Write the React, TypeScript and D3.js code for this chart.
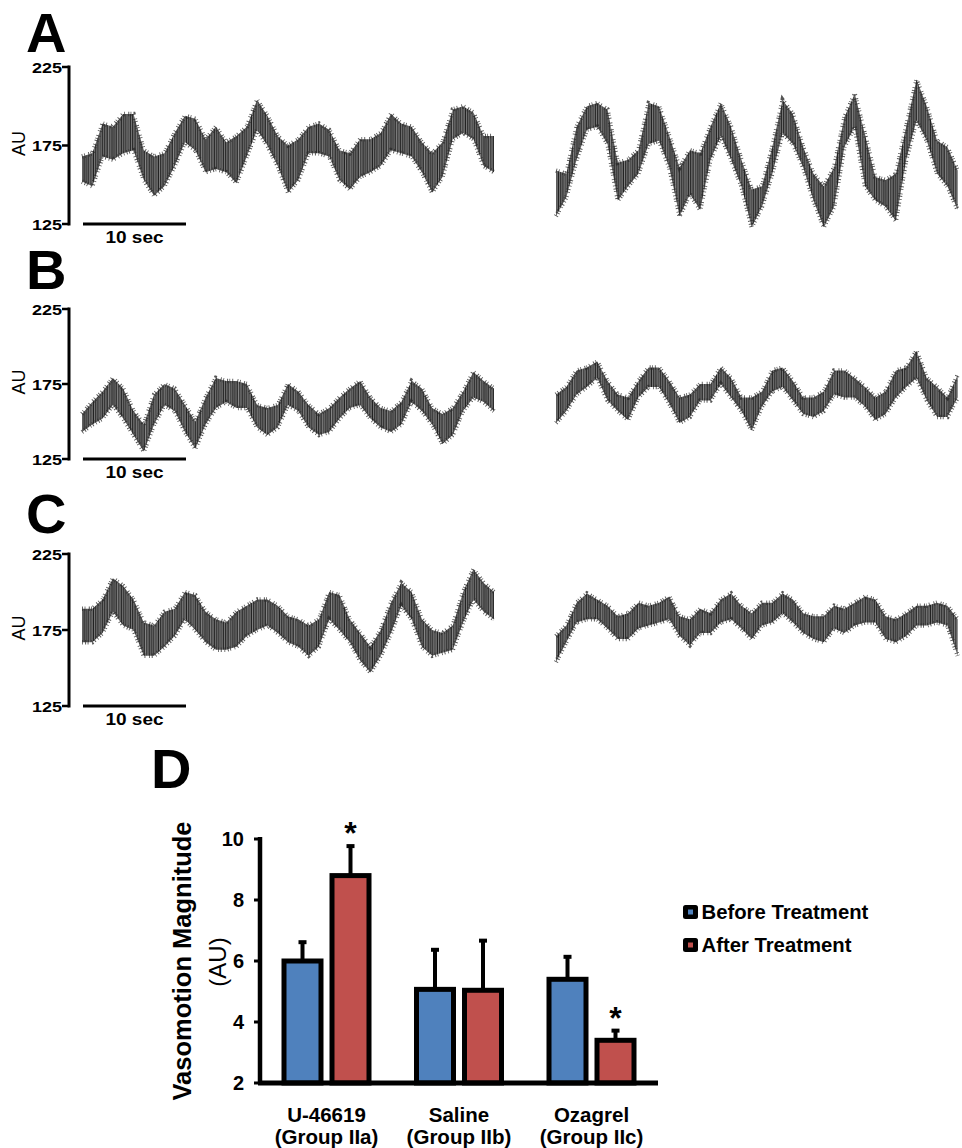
import * as d3 from 'd3';

const FONT = '"Liberation Sans", Arial, Helvetica, sans-serif';

// ---- traces (AU), one sample per second: upper / lower edge of the noisy signal ----
const A_LEFT_HI = [168,170,189,187,195,195,172,168,170,183,194,192,179,187,177,181,187,204,194,181,175,179,187,189,185,172,170,179,179,183,195,189,187,177,170,177,198,200,196,181,181];
const A_LEFT_LO = [152,149,168,166,170,172,153,143,149,162,177,172,158,160,158,151,168,185,175,162,145,153,170,170,168,153,147,155,158,162,172,170,168,158,145,155,179,183,179,162,158];
const A_RIGHT_HI = [159,157,187,200,202,198,164,166,172,202,200,181,161,172,170,187,202,187,166,147,149,174,204,195,174,157,149,161,193,208,182,155,153,157,187,217,200,178,174,159];
const A_RIGHT_LO = [130,142,166,185,187,176,140,149,157,176,178,161,130,144,134,166,181,166,149,123,136,157,183,176,161,140,123,136,174,187,149,140,136,127,166,191,178,157,149,134];

const B_LEFT_HI = [155,163,170,179,172,157,148,168,175,172,161,150,166,179,177,177,175,161,159,161,175,170,161,155,159,166,172,177,166,159,157,163,177,172,159,155,159,170,183,177,172];
const B_LEFT_LO = [143,148,152,161,152,141,130,148,161,157,143,132,148,159,163,159,159,146,141,146,161,157,146,141,143,152,159,161,152,146,143,148,163,157,148,135,141,157,166,163,157];
const B_RIGHT_HI = [168,173,184,186,190,177,168,166,177,186,186,177,166,168,175,175,186,179,166,166,170,184,186,177,166,166,170,184,184,179,173,166,170,184,186,197,179,173,166,181];
const B_RIGHT_LO = [149,157,168,173,179,164,157,151,166,173,173,162,149,153,164,164,175,166,157,144,160,170,173,164,155,153,157,168,166,166,160,151,155,166,173,179,164,153,153,166];

const C_LEFT_HI = [189,189,195,209,204,195,180,178,187,189,200,198,187,182,180,187,191,195,195,191,184,182,178,182,200,198,182,173,164,175,193,206,200,182,175,173,178,200,215,206,200];
const C_LEFT_LO = [167,167,173,187,178,175,158,158,164,171,182,175,167,162,162,164,171,175,178,173,167,164,158,164,182,175,167,155,147,158,173,191,182,164,158,160,162,180,195,187,182];
const C_RIGHT_HI = [171,178,193,199,195,191,184,186,193,191,193,197,184,182,189,186,195,199,191,186,193,193,199,195,186,184,184,191,189,193,197,195,184,182,186,191,191,193,191,182];
const C_RIGHT_LO = [154,167,180,182,182,176,169,169,176,178,180,182,171,165,173,173,180,182,176,169,178,180,186,180,173,169,167,176,173,178,180,180,169,167,171,178,178,180,178,158];

const AU_TICKS = [125, 175, 225];

// ---- panel D ----
const GROUPS = ['U-46619', 'Saline', 'Ozagrel'];
const GROUP_SUB = ['(Group IIa)', '(Group IIb)', '(Group IIc)'];
const SERIES = ['Before Treatment', 'After Treatment'];
const BEFORE = [6.0, 5.07, 5.4];
const AFTER = [8.8, 5.04, 3.4];
const BEFORE_SEM = [0.65, 1.33, 0.77];
const AFTER_SEM = [1.0, 1.66, 0.35];
const SIGNIFICANT_AFTER = [true, false, true];
const Y_TICKS = [2, 4, 6, 8, 10];
const COLORS = ['#4f81bd', '#c0504d'];

const PANELS = [
  { id: 'A', letterY: 52, top: 67, bottom: 224, left: [A_LEFT_HI, A_LEFT_LO], right: [A_RIGHT_HI, A_RIGHT_LO] },
  { id: 'B', letterY: 289, top: 309, bottom: 459, left: [B_LEFT_HI, B_LEFT_LO], right: [B_RIGHT_HI, B_RIGHT_LO] },
  { id: 'C', letterY: 533, top: 554, bottom: 706, left: [C_LEFT_HI, C_LEFT_LO], right: [C_RIGHT_HI, C_RIGHT_LO] },
];

// texture of the dense recording (a fill style only)
const STRIPES = [
  { x: 0.5, c: '#111' }, { x: 1.7, c: '#777' }, { x: 2.6, c: '#000' }, { x: 4.1, c: '#555' },
  { x: 5.0, c: '#1a1a1a' }, { x: 6.3, c: '#888' }, { x: 7.2, c: '#222' }, { x: 8.4, c: '#444' },
];

function Trace({ hi, lo, x0, y }: { hi: number[]; lo: number[]; x0: number; y: d3.ScaleLinear<number, number> }) {
  const x = d3.scaleLinear().domain([0, 40]).range([x0, x0 + 412]);
  const area = d3.area<number>()
    .x((_, i) => x(i))
    .y0((_, i) => y(lo[i]))
    .y1((d) => y(d));
  const edge = d3.line<number>().x((_, i) => x(i)).y((d) => y(d));
  return (
    <g>
      <path d={area(hi) ?? ''} fill="url(#noise)" />
      {/* fuzzy edges: short dark bristles along each envelope */}
      <path d={edge(hi) ?? ''} fill="none" stroke="#2a2a2a" strokeWidth={4.5}
        strokeDasharray="0.9 1.7 0.8 3.4 1 1.3 0.8 2.1 0.9 4" strokeOpacity={0.8} />
      <path d={edge(lo) ?? ''} fill="none" stroke="#2a2a2a" strokeWidth={4.5}
        strokeDasharray="0.8 2.3 1 1.5 0.9 3.6 0.8 1.9 1 2.7" strokeOpacity={0.8} />
    </g>
  );
}

function TracePanel({ p }: { p: (typeof PANELS)[number] }) {
  const y = d3.scaleLinear().domain([125, 225]).range([p.bottom, p.top]);
  const axisX = 69;
  return (
    <g>
      <text x={26} y={p.letterY} fontSize={56} fontWeight="bold" fontFamily={FONT}>{p.id}</text>
      <line x1={axisX} x2={axisX} y1={y(225) - 1.5} y2={y(125) + 1.5} stroke="#000" strokeWidth={3} />
      {AU_TICKS.map((t) => (
        <g key={t}>
          <line x1={axisX - 7} x2={axisX} y1={y(t)} y2={y(t)} stroke="#000" strokeWidth={2.5} />
          <g transform={`translate(${axisX - 7},${y(t) + 5.5}) scale(1.2,1)`}>
            <text textAnchor="end" fontSize={15} fontWeight="bold" fontFamily={FONT}>{t}</text>
          </g>
        </g>
      ))}
      <text
        transform={`translate(25,${y(175) - 2}) rotate(-90)`}
        textAnchor="middle"
        fontSize={18}
        fontFamily={FONT}
      >AU</text>
      {/* 10 s scale bar */}
      <line x1={83} x2={186} y1={p.bottom} y2={p.bottom} stroke="#000" strokeWidth={3} />
      <g transform={`translate(134.5,${p.bottom + 19}) scale(1.12,1)`}>
        <text textAnchor="middle" fontSize={17} fontWeight="bold" fontFamily={FONT}>10 sec</text>
      </g>
      <Trace hi={p.left[0]} lo={p.left[1]} x0={82} y={y} />
      <Trace hi={p.right[0]} lo={p.right[1]} x0={556} y={y} />
    </g>
  );
}

function BarPanel() {
  const y = d3.scaleLinear().domain([2, 10]).range([1083, 839]);
  const gx = d3.scalePoint<string>().domain(GROUPS).range([326.5, 591.5]);
  const sx = d3.scaleBand<string>().domain(SERIES).range([-45, 45]).paddingInner(0.125);
  const bw = sx.bandwidth();
  const values = [BEFORE, AFTER];
  const sems = [BEFORE_SEM, AFTER_SEM];
  const axisX = 260;
  return (
    <g fontFamily={FONT}>
      <text x={151} y={788} fontSize={56} fontWeight="bold">D</text>
      {GROUPS.map((g, gi) =>
        SERIES.map((s, si) => {
          const v = values[si][gi];
          const top = y(v + sems[si][gi]);
          const cx = (gx(g) ?? 0) + (sx(s) ?? 0) + bw / 2;
          return (
            <g key={g + s}>
              <line x1={cx} x2={cx} y1={top} y2={y(v)} stroke="#000" strokeWidth={4} />
              <rect x={cx - 4} y={top - 1} width={8} height={4} fill="#000" />
              <rect
                x={(gx(g) ?? 0) + (sx(s) ?? 0) + 2.5}
                y={y(v)}
                width={bw - 5}
                height={y(2) - y(v)}
                fill={COLORS[si]}
                stroke="#000"
                strokeWidth={5}
              />
              {si === 1 && SIGNIFICANT_AFTER[gi] && (
                <text x={cx} y={top - 1} textAnchor="middle" fontSize={32} fontWeight="bold">*</text>
              )}
            </g>
          );
        })
      )}
      {/* axes */}
      <line x1={axisX} x2={axisX} y1={y(10) - 2} y2={y(2)} stroke="#000" strokeWidth={4.5} />
      <line x1={axisX - 2} x2={658} y1={y(2)} y2={y(2)} stroke="#000" strokeWidth={5} />
      {Y_TICKS.map((t) => (
        <g key={t}>
          <line x1={axisX - 6} x2={axisX} y1={y(t)} y2={y(t)} stroke="#000" strokeWidth={3} />
          <text x={244} y={y(t) + 7} textAnchor="end" fontSize={20} fontWeight="bold">{t}</text>
        </g>
      ))}
      {GROUPS.map((g, gi) => (
        <g key={g}>
          <text x={gx(g)} y={1122} textAnchor="middle" fontSize={20.5} fontWeight="bold">{g}</text>
          <text x={gx(g)} y={1144} textAnchor="middle" fontSize={20.5} fontWeight="bold">{GROUP_SUB[gi]}</text>
        </g>
      ))}
      <text transform="translate(191,961) rotate(-90)" textAnchor="middle" fontSize={25.5} fontWeight="bold">
        Vasomotion Magnitude
      </text>
      <text transform="translate(226,962) rotate(-90)" textAnchor="middle" fontSize={24}>(AU)</text>
      {/* legend */}
      {SERIES.map((s, i) => (
        <g key={s} transform={`translate(683,${905 + i * 33})`}>
          <rect x={0} y={0} width={15} height={14} rx={2.5} fill="#000" />
          <rect x={5} y={4.5} width={5} height={5} fill={COLORS[i]} />
          <text x={18.5} y={13.5} fontSize={20.3} fontWeight="bold">{s}</text>
        </g>
      ))}
    </g>
  );
}

export default function App() {
  return (
    <svg
      width={962}
      height={1148}
      style={{ position: 'absolute', left: 0, top: 0, background: '#fff' }}
    >
      <defs>
        <pattern id="noise" width={9.3} height={6} patternUnits="userSpaceOnUse">
          <rect width={9.3} height={6} fill="#8a8a8a" />
          {STRIPES.map((s) => (
            <line key={s.x} x1={s.x} x2={s.x} y1={0} y2={6} stroke={s.c} strokeWidth={0.9} />
          ))}
        </pattern>
      </defs>
      <rect width={962} height={1148} fill="#fff" />
      {PANELS.map((p) => (
        <TracePanel key={p.id} p={p} />
      ))}
      <BarPanel />
    </svg>
  );
}
